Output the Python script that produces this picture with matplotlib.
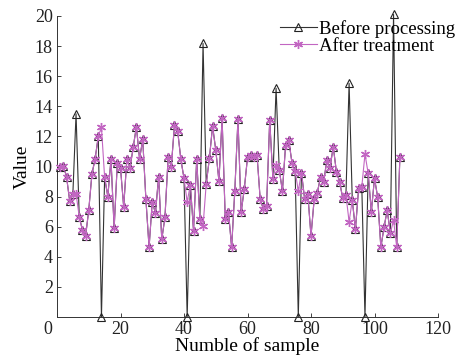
import matplotlib
matplotlib.use("Agg")
import matplotlib.pyplot as plt
import matplotlib.transforms as mtransforms

samples = list(range(1, 109))

before = [10.0, 10.05, 9.32, 7.7, 8.2, 13.5, 6.67, 5.78, 5.38, 7.1,
          9.5, 10.5, 12.0, 0.0, 9.28, 8.0, 10.48, 5.9, 10.25, 9.9,
          7.33, 10.48, 9.92, 11.27, 12.65, 10.5, 11.8, 7.82, 4.63, 7.66,
          6.9, 9.32, 5.16, 6.62, 10.6, 10.0, 12.76, 12.38, 10.48, 9.22,
          0.0, 8.77, 5.74, 10.48, 6.51, 18.18, 8.84, 10.54, 12.69, 11.1,
          9.04, 13.2, 6.49, 7.0, 4.63, 8.37, 13.16, 6.96, 8.53, 10.6,
          10.76, 10.6, 10.76, 7.82, 7.16, 7.38, 13.09, 9.17, 15.2, 9.77,
          8.37, 11.43, 11.76, 10.25, 9.72, 0.0, 9.6, 7.82, 8.15, 5.38,
          7.82, 8.26, 9.32, 8.99, 10.43, 9.92, 11.32, 9.66, 8.99, 7.89,
          8.1, 15.53, 7.77, 5.83, 8.55, 8.66, 0.0, 9.55, 7.0, 9.22,
          7.95, 4.63, 5.96, 7.1, 5.56, 20.1, 4.63, 10.65]

after = [10.0, 10.05, 9.32, 7.7, 8.2, 8.2, 6.67, 5.78, 5.38, 7.1,
         9.5, 10.5, 12.0, 12.6, 9.28, 8.0, 10.48, 5.9, 10.25, 9.9,
         7.33, 10.48, 9.92, 11.27, 12.65, 10.5, 11.8, 7.82, 4.63, 7.66,
         6.9, 9.32, 5.16, 6.62, 10.6, 10.0, 12.76, 12.38, 10.48, 9.22,
         7.66, 8.77, 5.74, 10.48, 6.51, 6.05, 8.84, 10.54, 12.69, 11.1,
         9.04, 13.2, 6.49, 7.0, 4.63, 8.37, 13.16, 6.96, 8.53, 10.6,
         10.76, 10.6, 10.76, 7.82, 7.16, 7.38, 13.09, 9.17, 10.1, 9.77,
         8.37, 11.43, 11.76, 10.25, 9.72, 8.37, 9.6, 7.82, 8.15, 5.38,
         7.82, 8.26, 9.32, 8.99, 10.43, 9.92, 11.32, 9.66, 8.99, 7.89,
         8.1, 6.33, 7.77, 5.83, 8.55, 8.66, 10.83, 9.55, 7.0, 9.22,
         7.95, 4.63, 5.96, 7.1, 5.56, 6.45, 4.63, 10.65]

xticks = [0, 20, 40, 60, 80, 100, 120]
yticks = [2, 4, 6, 8, 10, 12, 14, 16, 18, 20]

plt.rcParams['font.family'] = ['Liberation Serif', 'DejaVu Serif']

fig = plt.figure(figsize=(4.65, 3.6), dpi=100)
ax = fig.add_axes([57/465, 1-317/360, (438-57)/465, (317-16)/360])

ax.plot(samples, before, color='#333333', lw=0.8, marker='^', ms=6,
        mfc='none', mec='#222222', mew=0.8, label='Before processing',
        clip_on=False, zorder=3)
ax.plot(samples, after, color='#C266C2', lw=0.8, marker=(6, 2, 0), ms=6.5,
        mfc='#C266C2', mec='#C266C2', mew=1.0, label='After treatment',
        clip_on=False, zorder=4)

ax.set_xlim(0, 120)
ax.set_ylim(0, 20)
ax.set_xticks(xticks)
ax.set_yticks(yticks)
ax.tick_params(direction='in', length=3, width=0.6, colors='#222222',
               labelsize=13, pad=3)
for s in ['top', 'right']:
    ax.spines[s].set_visible(False)
for s in ['left', 'bottom']:
    ax.spines[s].set_linewidth(0.7)
    ax.spines[s].set_color('#333333')

# shift the "0" x tick label left as in reference
lbl0 = ax.get_xticklabels()[0]
lbl0.set_transform(lbl0.get_transform() +
                   mtransforms.ScaledTranslation(-9/100, 0, fig.dpi_scale_trans))

ax.set_xlabel('Numble of sample', fontsize=14, labelpad=-1)
ax.set_ylabel('Value', fontsize=14, labelpad=3)

leg = ax.legend(loc='upper right', bbox_to_anchor=(455/465, 1-20/360),
                bbox_transform=fig.transFigure, frameon=False,
                handlelength=2.0, handletextpad=0.1, borderpad=0,
                labelspacing=0.0, fontsize=13.5, borderaxespad=0)

fig.savefig('out.png', dpi=100)
